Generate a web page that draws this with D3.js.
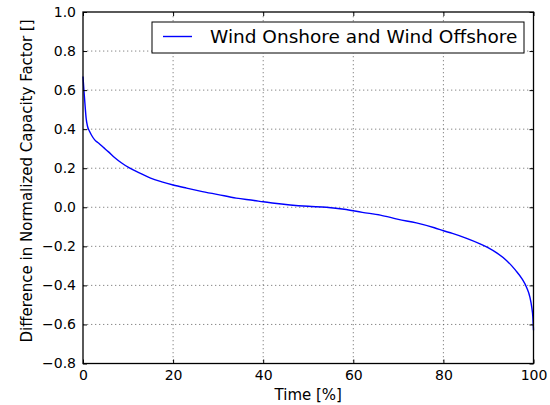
<!DOCTYPE html>
<html>
<head>
<meta charset="utf-8">
<script src="https://cdn.jsdelivr.net/npm/d3@7"></script>
<style>
  html, body { margin: 0; padding: 0; background: #fff; }
  svg { display: block; font-family: "DejaVu Sans", sans-serif; }
</style>
</head>
<body>
<svg id="chart" width="550" height="405"></svg>
<script>
// Data (x = time %, y = difference in normalized capacity factor)
const timePct = [0, 0.2, 0.4, 0.7, 1.0, 1.5, 2.0, 2.6, 3.5, 4.5, 5.6, 7.0, 8.5, 10.4, 12.5, 15, 17.5, 20, 23, 26, 30, 34, 38, 40, 42, 46, 50, 54, 58, 62, 66, 70, 74, 78, 80, 82, 85, 88, 90, 92, 94, 96, 97.5, 98.5, 99.2, 99.6, 99.85, 100];
const diffValues = [0.67, 0.6, 0.54, 0.455, 0.415, 0.387, 0.365, 0.345, 0.328, 0.307, 0.285, 0.255, 0.228, 0.2, 0.176, 0.149, 0.13, 0.114, 0.098, 0.083, 0.065, 0.047, 0.035, 0.028, 0.022, 0.012, 0.005, 0.0, -0.01, -0.026, -0.04, -0.062, -0.08, -0.105, -0.12, -0.134, -0.158, -0.186, -0.208, -0.236, -0.272, -0.322, -0.368, -0.412, -0.46, -0.51, -0.56, -0.63];
const xTicks = [0, 20, 40, 60, 80, 100];
const yTicks = [-0.8, -0.6, -0.4, -0.2, 0.0, 0.2, 0.4, 0.6, 0.8, 1.0];
const seriesName = "Wind Onshore and Wind Offshore";
const xLabel = "Time [%]";
const yLabel = "Difference in Normalized Capacity Factor []";

const svg = d3.select("#chart");
const L = 83, R = 533.5, T = 12, B = 363.5;

const x = d3.scaleLinear().domain([0, 100]).range([L, R]);
const y = d3.scaleLinear().domain([-0.8, 1.0]).range([B, T]);

const fmtY = d => d3.format(".1f")(d).replace("-", "\u2212");

// grid
const grid = svg.append("g");
grid.selectAll("line.gx").data(xTicks.slice(1, -1)).join("line")
  .attr("x1", d => x(d)).attr("x2", d => x(d)).attr("y1", T).attr("y2", B)
  .attr("stroke", "#555").attr("stroke-width", 0.7).attr("stroke-dasharray", "1.3,2.7");
grid.selectAll("line.gy").data(yTicks.slice(1, -1)).join("line")
  .attr("y1", d => y(d)).attr("y2", d => y(d)).attr("x1", L).attr("x2", R)
  .attr("stroke", "#555").attr("stroke-width", 0.7).attr("stroke-dasharray", "1.3,2.7");

// line
const line = d3.line().x((d, i) => x(timePct[i])).y(d => y(d)).curve(d3.curveMonotoneX);
svg.append("path").datum(diffValues)
  .attr("fill", "none").attr("stroke", "#0000ff").attr("stroke-width", 1.4)
  .attr("stroke-linejoin", "round")
  .attr("d", line);

// axes with inward ticks
const tickLen = 4;
const axB = svg.append("g").attr("transform", `translate(0,${B})`)
  .call(d3.axisBottom(x).tickValues(xTicks).tickSize(-tickLen).tickPadding(7).tickFormat(d3.format("d")));
const axT = svg.append("g").attr("transform", `translate(0,${T})`)
  .call(d3.axisTop(x).tickValues(xTicks).tickSize(-tickLen).tickFormat(""));
const axL = svg.append("g").attr("transform", `translate(${L},0)`)
  .call(d3.axisLeft(y).tickValues(yTicks).tickSize(-tickLen).tickPadding(7).tickFormat(fmtY));
const axR = svg.append("g").attr("transform", `translate(${R},0)`)
  .call(d3.axisRight(y).tickValues(yTicks).tickSize(-tickLen).tickFormat(""));

[axB, axT, axL, axR].forEach(a => {
  a.select(".domain").remove();
  a.selectAll(".tick line").attr("stroke", "#000").attr("stroke-width", 1);
  a.selectAll("text").attr("font-family", "DejaVu Sans, sans-serif").attr("font-size", 14).attr("fill", "#000");
});

// frame
svg.append("rect").attr("x", L).attr("y", T).attr("width", R - L).attr("height", B - T)
  .attr("fill", "none").attr("stroke", "#000").attr("stroke-width", 1.3);

// axis labels
svg.append("text").attr("x", (L + R) / 2).attr("y", 399.5)
  .attr("text-anchor", "middle").attr("font-size", 15).text(xLabel);
svg.append("text").attr("transform", `translate(32,${181}) rotate(-90)`)
  .attr("text-anchor", "middle").attr("font-size", 15).text(yLabel);

// legend
const lg = svg.append("g");
lg.append("rect").attr("x", 152).attr("y", 22).attr("width", 372).attr("height", 31)
  .attr("fill", "#fff").attr("stroke", "#000").attr("stroke-width", 1);
lg.append("line").attr("x1", 163).attr("x2", 192).attr("y1", 36.5).attr("y2", 36.5)
  .attr("stroke", "#0000ff").attr("stroke-width", 1.4);
lg.append("text").attr("x", 210).attr("y", 43).attr("font-size", 18.5).text(seriesName);
</script>
</body>
</html>
